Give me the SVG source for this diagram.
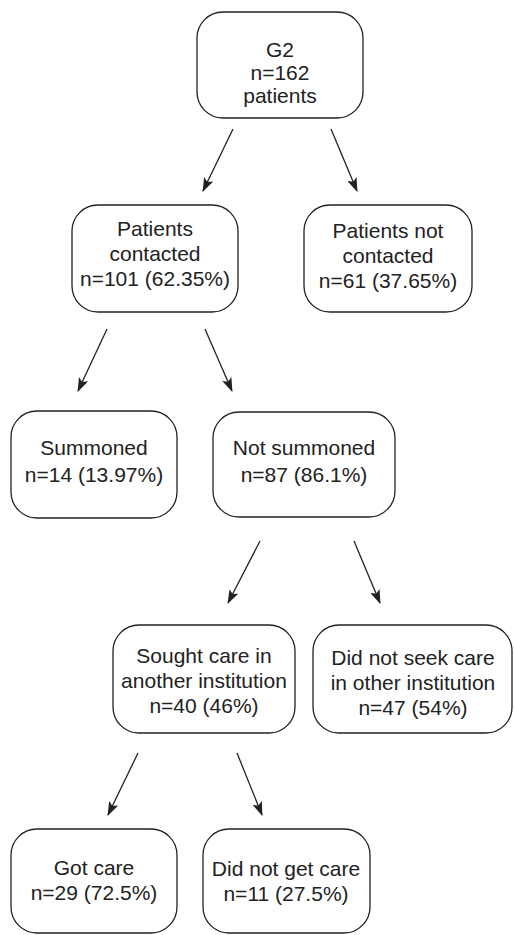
<svg xmlns="http://www.w3.org/2000/svg" width="514" height="935" viewBox="0 0 514 935">
<style>
.box{fill:#fff;stroke:#222;stroke-width:1.3}
.t{font-family:"Liberation Sans",Arial,sans-serif;font-size:21px;fill:#222;text-anchor:middle}
.c{stroke:#222;stroke-width:1.3;fill:none;marker-end:url(#ah)}
</style>
<defs>
<marker id="ah" viewBox="0 0 14 10" refX="13" refY="5" markerWidth="14" markerHeight="10" markerUnits="userSpaceOnUse" orient="auto">
<path d="M0,0 L14,5 L0,10 L3,5 z" fill="#222"/>
</marker>
</defs>
<rect width="514" height="935" fill="#fff"/>
<g id="connectors">
<line class="c" x1="233" y1="129" x2="203" y2="191"/>
<line class="c" x1="331" y1="129" x2="357" y2="191"/>
<line class="c" x1="107" y1="329" x2="78" y2="391"/>
<line class="c" x1="205" y1="329" x2="232" y2="391"/>
<line class="c" x1="260" y1="541" x2="228" y2="603"/>
<line class="c" x1="354" y1="541" x2="380" y2="603"/>
<line class="c" x1="138" y1="753" x2="108" y2="815"/>
<line class="c" x1="237" y1="753" x2="262" y2="815"/>
</g>
<g id="g2">
<rect class="box" x="197" y="12" width="166" height="106" rx="26"/>
<text class="t" x="280" y="57">G2</text>
<text class="t" x="280" y="80">n=162</text>
<text class="t" x="280" y="103">patients</text>
</g>
<g id="contacted">
<rect class="box" x="72" y="205" width="166" height="107" rx="26"/>
<text class="t" x="155" y="236">Patients</text>
<text class="t" x="155" y="261">contacted</text>
<text class="t" x="155" y="286">n=101 (62.35%)</text>
</g>
<g id="notcontacted">
<rect class="box" x="304" y="205" width="168" height="107" rx="26"/>
<text class="t" x="388" y="238">Patients not</text>
<text class="t" x="388" y="263">contacted</text>
<text class="t" x="388" y="288">n=61 (37.65%)</text>
</g>
<g id="summoned">
<rect class="box" x="11" y="411" width="166" height="107" rx="26"/>
<text class="t" x="94" y="455">Summoned</text>
<text class="t" x="94" y="482">n=14 (13.97%)</text>
</g>
<g id="notsummoned">
<rect class="box" x="213" y="412" width="182" height="105" rx="26"/>
<text class="t" x="304" y="455">Not summoned</text>
<text class="t" x="304" y="482">n=87 (86.1%)</text>
</g>
<g id="sought">
<rect class="box" x="113" y="625" width="182" height="108" rx="26"/>
<text class="t" x="204" y="663">Sought care in</text>
<text class="t" x="204" y="688">another institution</text>
<text class="t" x="204" y="713">n=40 (46%)</text>
</g>
<g id="notseek">
<rect class="box" x="313" y="625" width="199" height="108" rx="26"/>
<text class="t" x="413" y="665">Did not seek care</text>
<text class="t" x="413" y="690">in other institution</text>
<text class="t" x="413" y="715">n=47 (54%)</text>
</g>
<g id="gotcare">
<rect class="box" x="11" y="829" width="166" height="104" rx="26"/>
<text class="t" x="94" y="875">Got care</text>
<text class="t" x="94" y="900">n=29 (72.5%)</text>
</g>
<g id="notgetcare">
<rect class="box" x="203" y="829" width="167" height="104" rx="26"/>
<text class="t" x="286" y="876">Did not get care</text>
<text class="t" x="286" y="901">n=11 (27.5%)</text>
</g>
</svg>
